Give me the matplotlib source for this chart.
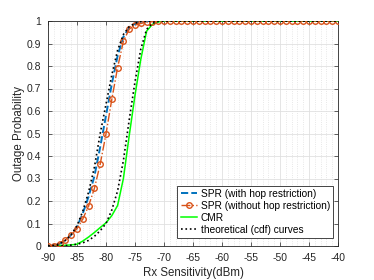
import matplotlib
matplotlib.use("Agg")
import matplotlib.pyplot as plt
from matplotlib.ticker import MultipleLocator

plt.rcParams['font.family'] = ['Liberation Sans', 'DejaVu Sans']

x_dbm = list(range(-90, -39))

spr_hop = [0.0, 0.003, 0.01, 0.025, 0.05, 0.085, 0.145, 0.22, 0.31, 0.44,
           0.58, 0.72, 0.845, 0.93, 0.97, 0.988, 0.996, 0.999, 1.0, 1.0,
           1.0, 1.0, 1.0, 1.0, 1.0, 1.0, 1.0, 1.0, 1.0, 1.0,
           1.0, 1.0, 1.0, 1.0, 1.0, 1.0, 1.0, 1.0, 1.0, 1.0,
           1.0, 1.0, 1.0, 1.0, 1.0, 1.0, 1.0, 1.0, 1.0, 1.0, 1.0]

spr_nohop = [0.0, 0.002, 0.01, 0.027, 0.049, 0.077, 0.12, 0.178, 0.256, 0.364,
             0.498, 0.652, 0.793, 0.91, 0.964, 0.982, 0.989, 0.995, 0.997, 0.999,
             1.0, 1.0, 1.0, 1.0, 1.0, 1.0, 1.0, 1.0, 1.0, 1.0,
             1.0, 1.0, 1.0, 1.0, 1.0, 1.0, 1.0, 1.0, 1.0, 1.0,
             1.0, 1.0, 1.0, 1.0, 1.0, 1.0, 1.0, 1.0, 1.0, 1.0, 1.0]

cmr = [0.0, 0.001, 0.002, 0.003, 0.005, 0.008, 0.022, 0.04, 0.06, 0.082,
       0.103, 0.135, 0.18, 0.30, 0.49, 0.67, 0.83, 0.955, 0.985, 0.996,
       1.0, 1.0, 1.0, 1.0, 1.0, 1.0, 1.0, 1.0, 1.0, 1.0,
       1.0, 1.0, 1.0, 1.0, 1.0, 1.0, 1.0, 1.0, 1.0, 1.0,
       1.0, 1.0, 1.0, 1.0, 1.0, 1.0, 1.0, 1.0, 1.0, 1.0, 1.0]

theory_spr = [0.0, 0.003, 0.01, 0.025, 0.05, 0.09, 0.155, 0.24, 0.35, 0.50,
              0.63, 0.76, 0.87, 0.94, 0.975, 0.99, 0.997, 0.999, 1.0, 1.0,
              1.0, 1.0, 1.0, 1.0, 1.0, 1.0, 1.0, 1.0, 1.0, 1.0,
              1.0, 1.0, 1.0, 1.0, 1.0, 1.0, 1.0, 1.0, 1.0, 1.0,
              1.0, 1.0, 1.0, 1.0, 1.0, 1.0, 1.0, 1.0, 1.0, 1.0, 1.0]

theory_cmr = [0.0, 0.0, 0.001, 0.002, 0.004, 0.008, 0.014, 0.025, 0.043, 0.068,
              0.10, 0.16, 0.245, 0.38, 0.56, 0.73, 0.875, 0.963, 0.99, 0.998,
              1.0, 1.0, 1.0, 1.0, 1.0, 1.0, 1.0, 1.0, 1.0, 1.0,
              1.0, 1.0, 1.0, 1.0, 1.0, 1.0, 1.0, 1.0, 1.0, 1.0,
              1.0, 1.0, 1.0, 1.0, 1.0, 1.0, 1.0, 1.0, 1.0, 1.0, 1.0]

labels = ['SPR (with hop restriction)', 'SPR (without hop restriction)',
          'CMR', 'theoretical (cdf) curves']
xticks = list(range(-90, -39, 5))
yticks = [0, 0.1, 0.2, 0.3, 0.4, 0.5, 0.6, 0.7, 0.8, 0.9, 1]
yticklabels = ['0', '0.1', '0.2', '0.3', '0.4', '0.5', '0.6', '0.7', '0.8', '0.9', '1']

fig = plt.figure(figsize=(3.74, 2.80), dpi=100)
ax = fig.add_axes([48/374, 34/280, 290/374, 225/280])

ax.plot(x_dbm, spr_hop, '--', color='#0072BD', lw=1.4, label=labels[0], zorder=3)
ax.plot(x_dbm, spr_nohop, '-.', color='#D95319', lw=1.0, marker='o', ms=4,
        mfc='none', mew=1.0, label=labels[1], zorder=4)
ax.plot(x_dbm, cmr, '-', color='#00FF00', lw=1.1, label=labels[2], zorder=3)
ax.plot(x_dbm, theory_spr, ':', color='black', lw=1.2, label=labels[3], zorder=5)
ax.plot(x_dbm, theory_cmr, ':', color='black', lw=1.2, zorder=5)

ax.set_xlim(-90, -40)
ax.set_ylim(0, 1)
ax.set_xticks(xticks)
ax.set_xticklabels([str(v) for v in xticks])
ax.set_yticks(yticks)
ax.set_yticklabels(yticklabels)
ax.xaxis.set_minor_locator(MultipleLocator(1))

ax.grid(which='major', color='#e0e0e0', lw=0.6, ls='-')
ax.grid(which='minor', axis='x', color='#e0e0e0', lw=0.6, ls=':')
ax.set_axisbelow(True)

ax.tick_params(which='major', direction='in', length=3, width=0.5, labelsize=7.5,
               colors='#262626', top=True, right=True)
ax.tick_params(axis='x', which='major', pad=5)
ax.tick_params(axis='y', which='major', pad=5)
ax.tick_params(which='minor', length=0, top=True, right=True)
for s in ax.spines.values():
    s.set_color('#262626')
    s.set_linewidth(0.6)

ax.set_xlabel('Rx Sensitivity(dBm)', fontsize=8.3, color='#262626', labelpad=3)
ax.set_ylabel('Outage Probability', fontsize=8.3, color='#262626', labelpad=1)

leg = ax.legend(loc='lower right', bbox_to_anchor=(0.983, 0.036), borderaxespad=0,
                fontsize=7.3, frameon=True, fancybox=False, framealpha=1,
                edgecolor='#262626', handlelength=1.6, handletextpad=0.4,
                labelspacing=0.2, borderpad=0.3)
leg.get_frame().set_linewidth(0.6)

fig.savefig('out.png', dpi=100)
